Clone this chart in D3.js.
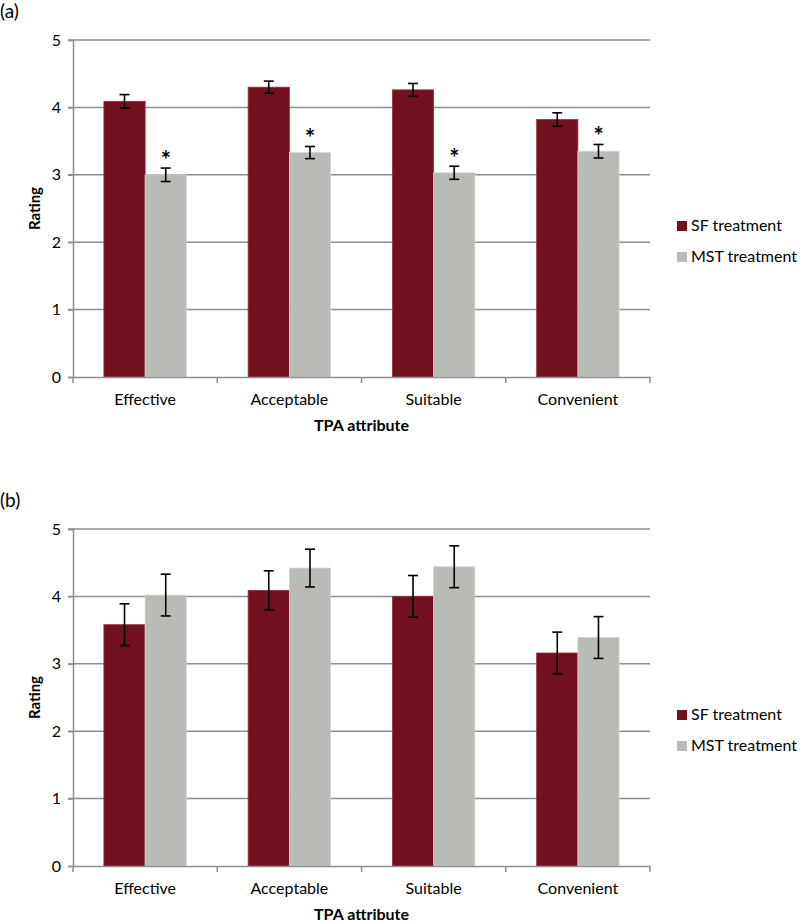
<!DOCTYPE html>
<html><head><meta charset="utf-8">
<script src="https://cdn.jsdelivr.net/npm/d3@7/dist/d3.min.js"></script>
<style>body{margin:0;background:#fff}svg{display:block}text{font-family:Lato,"Open Sans",sans-serif;fill:#000}</style>
</head><body>
<svg id="chart" width="800" height="922"></svg>
<script>
const categories = ["Effective", "Acceptable", "Suitable", "Convenient"];
const seriesNames = ["SF treatment", "MST treatment"];
const yTicks = [0, 1, 2, 3, 4, 5];
// Panel (a)
const aSF = [4.09, 4.30, 4.26, 3.82];
const aSFerr = [0.10, 0.09, 0.095, 0.10];
const aMST = [3.00, 3.33, 3.03, 3.35];
const aMSTerr = [0.10, 0.09, 0.097, 0.10];
const aSig = [true, true, true, true];
// Panel (b)
const bSF = [3.58, 4.09, 4.00, 3.16];
const bSFerr = [0.31, 0.29, 0.31, 0.31];
const bMST = [4.02, 4.42, 4.44, 3.39];
const bMSTerr = [0.31, 0.28, 0.31, 0.31];
const bSig = [false, false, false, false];

const colors = ["#72101f", "#b9bbb6"];
const svg = d3.select("#chart");

function panel(label, top, sf, sfe, mst, mste, sig) {
  const left = 73, right = 650, plotTop = top, plotBottom = top + 337;
  const g = svg.append("g");
  const x = d3.scaleBand().domain(categories).range([left, right]);
  const inner = d3.scaleBand().domain(seriesNames).range([0, x.bandwidth()]).paddingInner(0).paddingOuter(0.75);
  const y = d3.scaleLinear().domain([0, 5]).range([plotBottom, plotTop]);

  g.append("text").attr("x", 0).attr("y", top - 22).attr("font-size", 19).text(label);

  // gridlines
  g.append("g").selectAll("line").data(yTicks.filter(d => d > 0)).join("line")
    .attr("x1", left - 5).attr("x2", right).attr("y1", d => y(d)).attr("y2", d => y(d))
    .attr("stroke", "#8e8e8e").attr("stroke-width", 1.5);

  // y axis
  const ya = d3.axisLeft(y).tickValues(yTicks).tickSize(5).tickPadding(7).tickFormat(d3.format("d"));
  const yg = g.append("g").attr("transform", `translate(${left},0)`).call(ya);
  yg.select(".domain").attr("stroke", "#8e8e8e").attr("stroke-width", 1.5);
  yg.selectAll(".tick line").attr("stroke", "#8e8e8e").attr("stroke-width", 1.5);
  yg.selectAll(".tick text").attr("font-size", 16).attr("font-family", "Lato");

  // bars
  const rows = categories.map((c, i) => [
    {c, s: seriesNames[0], v: sf[i], e: sfe[i], k: 0},
    {c, s: seriesNames[1], v: mst[i], e: mste[i], k: 1, sig: sig[i]}
  ]).flat();
  g.append("g").selectAll("rect").data(rows).join("rect")
    .attr("x", d => x(d.c) + inner(d.s)).attr("width", inner.bandwidth())
    .attr("y", d => y(d.v)).attr("height", d => y(0) - y(d.v))
    .attr("fill", d => colors[d.k])
    .attr("stroke", d => d.k === 0 ? "#8a3040" : "#d4d5d1").attr("stroke-width", 0.8);

  // x axis
  const xa = d3.axisBottom(x).tickSize(0).tickPadding(17);
  const xg = g.append("g").attr("transform", `translate(0,${plotBottom})`).call(xa);
  xg.select(".domain").attr("stroke", "#8e8e8e").attr("stroke-width", 1.5);
  xg.selectAll(".tick text").attr("font-size", 16).attr("font-family", "Lato");
  const bounds = categories.map(c => x(c)).concat([right]);
  g.append("g").selectAll("line").data(bounds).join("line")
    .attr("x1", d => d).attr("x2", d => d).attr("y1", plotBottom).attr("y2", plotBottom + 6)
    .attr("stroke", "#8e8e8e").attr("stroke-width", 1.5);

  // error bars
  const eb = g.append("g").attr("stroke", "#000").attr("stroke-width", 1.6);
  rows.forEach(d => {
    const cx = x(d.c) + inner(d.s) + inner.bandwidth() / 2;
    eb.append("line").attr("x1", cx).attr("x2", cx).attr("y1", y(d.v + d.e)).attr("y2", y(d.v - d.e));
    eb.append("line").attr("x1", cx - 5).attr("x2", cx + 5).attr("y1", y(d.v + d.e)).attr("y2", y(d.v + d.e));
    eb.append("line").attr("x1", cx - 5).attr("x2", cx + 5).attr("y1", y(d.v - d.e)).attr("y2", y(d.v - d.e));
    if (d.sig) {
      g.append("text").attr("x", cx).attr("y", y(d.v + d.e) + 1).attr("text-anchor", "middle")
        .attr("font-size", 24).attr("font-weight", "bold").text("*");
    }
  });

  // axis titles
  g.append("text").attr("transform", `translate(40,${(plotTop + plotBottom) / 2}) rotate(-90)`)
    .attr("text-anchor", "middle").attr("font-size", 15).attr("font-weight", "bold").text("Rating");
  g.append("text").attr("x", (left + right) / 2).attr("y", plotBottom + 54)
    .attr("text-anchor", "middle").attr("font-size", 16).attr("font-weight", "bold").text("TPA attribute");

  // legend
  const lg = g.append("g").attr("transform", `translate(677,${top + 181})`);
  seriesNames.forEach((s, i) => {
    lg.append("rect").attr("x", 0).attr("y", i * 31).attr("width", 10).attr("height", 10).attr("fill", colors[i]);
    lg.append("text").attr("x", 14).attr("y", i * 31 + 10).attr("font-size", 16).text(s);
  });
}

panel("(a)", 40, aSF, aSFerr, aMST, aMSTerr, aSig);
panel("(b)", 529, bSF, bSFerr, bMST, bMSTerr, bSig);
</script>
</body></html>
